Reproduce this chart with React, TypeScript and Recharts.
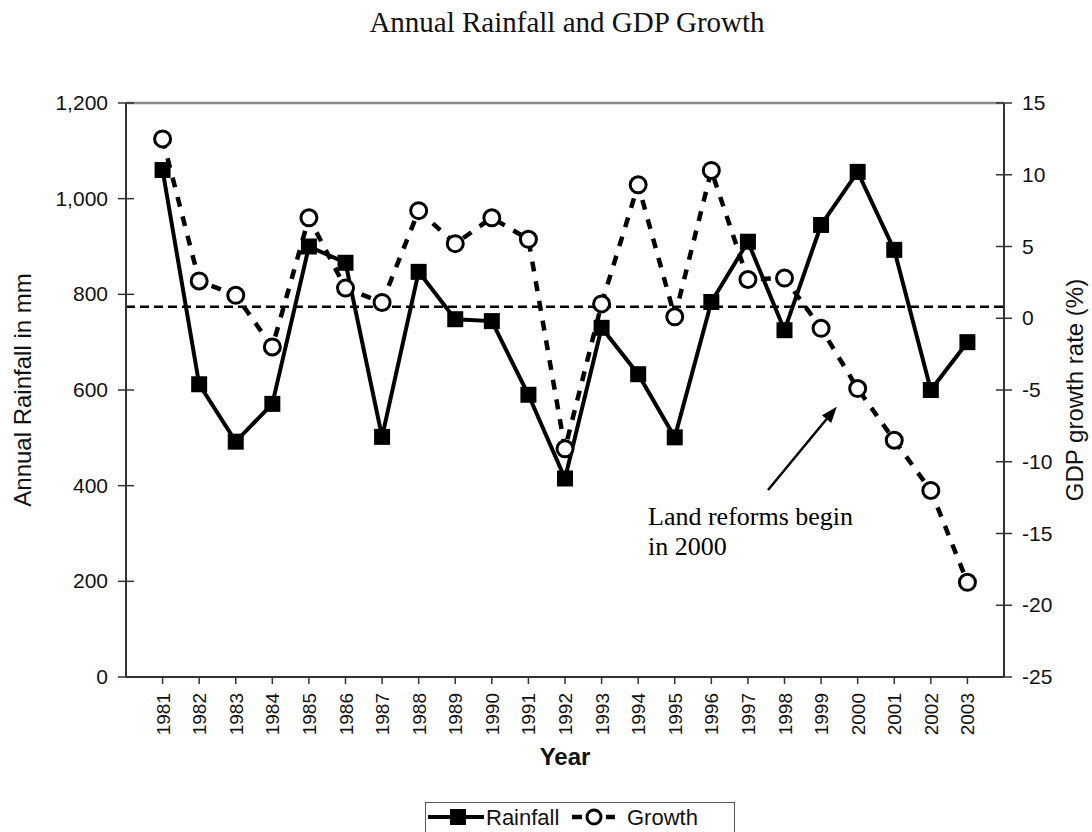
import React from 'react';
import { LineChart, Line, XAxis, YAxis, ReferenceLine, Label } from 'recharts';

const years = [1981, 1982, 1983, 1984, 1985, 1986, 1987, 1988, 1989, 1990, 1991, 1992, 1993, 1994, 1995, 1996, 1997, 1998, 1999, 2000, 2001, 2002, 2003];
const rainfall = [1060, 612, 492, 571, 900, 866, 502, 847, 748, 744, 590, 415, 730, 633, 501, 784, 910, 725, 945, 1056, 893, 600, 700];
const growth = [12.5, 2.6, 1.6, -2.0, 7.0, 2.1, 1.1, 7.5, 5.2, 7.0, 5.5, -9.1, 1.0, 9.3, 0.1, 10.3, 2.7, 2.8, -0.7, -4.9, -8.5, -12.0, -18.4];
const meanRainfall = 774;
const rainTicks = [0, 200, 400, 600, 800, 1000, 1200];
const growthTicks = [-25, -20, -15, -10, -5, 0, 5, 10, 15];

// arrow for the note, in chart units (year, mm)
const arrowFrom = { x: 1997.55, y: 391 };
const arrowTo = { x: 1999.43, y: 565 };
const noteLines = ['Land reforms begin', 'in 2000'];

const data = years.map((year, i) => ({ year, rainfall: rainfall[i], growth: growth[i] }));

const SANS = '"Liberation Sans", Arial, sans-serif';
const SERIF = '"Liberation Serif", "Times New Roman", serif';

const SquareDot = (props: any) => {
  const { cx, cy } = props;
  if (cx == null || cy == null) return null;
  return <rect x={cx - 8} y={cy - 8} width={16} height={16} fill="#000" />;
};

const CircleDot = (props: any) => {
  const { cx, cy } = props;
  if (cx == null || cy == null) return null;
  return <circle cx={cx} cy={cy} r={8} fill="#fff" stroke="#000" strokeWidth={3} />;
};

const LeftTick = (props: any) => {
  const { x, y, payload } = props;
  return (
    <g>
      <line x1={x - 8} x2={x + 8} y1={y} y2={y} stroke="#333" strokeWidth={1.5} />
      <text x={x - 18} y={y} dy={7} textAnchor="end" fontSize={21} fontFamily={SANS} fill="#111">
        {Number(payload.value).toLocaleString('en-US')}
      </text>
    </g>
  );
};

const RightTick = (props: any) => {
  const { x, y, payload } = props;
  return (
    <g>
      <line x1={x - 8} x2={x + 8} y1={y} y2={y} stroke="#333" strokeWidth={1.5} />
      <text x={x + 18} y={y} dy={7} textAnchor="start" fontSize={21} fontFamily={SANS} fill="#111">
        {payload.value}
      </text>
    </g>
  );
};

const YearTick = (props: any) => {
  const { x, y, payload } = props;
  return (
    <g>
      <line x1={x} x2={x} y1={y} y2={y + 7} stroke="#333" strokeWidth={1.5} />
      <text
        x={x + 7}
        y={y + 16}
        textAnchor="end"
        transform={`rotate(-90, ${x + 7}, ${y + 16})`}
        fontSize={19}
        fontFamily={SANS}
        fill="#111"
      >
        {payload.value}
      </text>
    </g>
  );
};

// vertical axis title, placed from the axis viewBox
const SideTitle = ({ viewBox, value, side }: any) => {
  if (!viewBox) return null;
  const cy = viewBox.y + viewBox.height / 2;
  const x = side === 'left' ? viewBox.x - 15 : viewBox.x + 79;
  return (
    <text
      x={x}
      y={cy}
      textAnchor="middle"
      transform={`rotate(-90, ${x}, ${cy})`}
      fontSize={24}
      fontFamily={SANS}
      fill="#111"
    >
      {value}
    </text>
  );
};

const NoteArrow = (props: any) => {
  const { x1, y1, x2, y2 } = props;
  const ang = Math.atan2(y2 - y1, x2 - x1);
  const len = 16;
  const half = 6;
  const bx = x2 - len * Math.cos(ang);
  const by = y2 - len * Math.sin(ang);
  const px = -Math.sin(ang) * half;
  const py = Math.cos(ang) * half;
  return (
    <g>
      <line x1={x1} y1={y1} x2={bx} y2={by} stroke="#000" strokeWidth={2.5} />
      <polygon points={`${x2},${y2} ${bx + px},${by + py} ${bx - px},${by - py}`} fill="#000" />
      <text x={x1 - 120} y={y1 + 35} fontSize={26} fontFamily={SERIF} fill="#000">
        {noteLines.map((t, i) => (
          <tspan key={t} x={x1 - 120} dy={i === 0 ? 0 : 30}>{t}</tspan>
        ))}
      </text>
    </g>
  );
};

const LegendBox = () => (
  <div
    style={{
      position: 'absolute',
      left: 425,
      top: 802,
      width: 310,
      height: 34,
      border: '1.5px solid #555',
      boxSizing: 'border-box',
      background: '#fff',
    }}
  >
    <svg width={310} height={34}>
      <line x1={2} x2={58} y1={14} y2={14} stroke="#000" strokeWidth={4} />
      <rect x={24} y={6} width={16} height={16} fill="#000" />
      <text x={60} y={22} fontSize={22} fontFamily={SANS} fill="#111">Rainfall</text>
      <line x1={146} x2={156} y1={14} y2={14} stroke="#000" strokeWidth={4.5} />
      <circle cx={168} cy={14} r={7} fill="#fff" stroke="#000" strokeWidth={3} />
      <line x1={180} x2={189} y1={14} y2={14} stroke="#000" strokeWidth={4.5} />
      <text x={201} y={22} fontSize={22} fontFamily={SANS} fill="#111">Growth</text>
    </svg>
  </div>
);

export default function App() {
  return (
    <div style={{ position: 'absolute', left: 0, top: 0, width: 1092, height: 832, background: '#fff', overflow: 'hidden' }}>
      <div
        style={{
          position: 'absolute',
          left: 0,
          width: 1092,
          top: 6,
          textAlign: 'center',
          paddingLeft: 42,
          boxSizing: 'border-box',
          fontFamily: SERIF,
          fontSize: 29,
          color: '#111',
        }}
      >
        Annual Rainfall and GDP Growth
      </div>
      <LineChart width={1092} height={832} data={data} margin={{ top: 103, right: 28, bottom: 55, left: 46 }}>
        <XAxis
          dataKey="year"
          type="number"
          domain={[1980, 2004]}
          ticks={years}
          interval={0}
          allowDecimals={false}
          height={100}
          tickSize={0}
          tickMargin={0}
          tickLine={false}
          tick={<YearTick />}
          axisLine={{ stroke: '#333', strokeWidth: 2 }}
          label={{ value: 'Year', position: 'insideBottom', offset: 12, fontSize: 24, fontWeight: 'bold', fontFamily: SANS, fill: '#111' }}
        />
        <YAxis
          yAxisId="left"
          domain={[0, 1200]}
          ticks={rainTicks}
          width={80}
          tickSize={0}
          tickMargin={0}
          tickLine={false}
          tick={<LeftTick />}
          axisLine={{ stroke: '#333', strokeWidth: 2 }}
        >
          <Label content={<SideTitle value="Annual Rainfall in mm" side="left" />} />
        </YAxis>
        <YAxis
          yAxisId="right"
          orientation="right"
          domain={[-25, 15]}
          ticks={growthTicks}
          width={60}
          tickSize={0}
          tickMargin={0}
          tickLine={false}
          tick={<RightTick />}
          axisLine={{ stroke: '#333', strokeWidth: 2 }}
        >
          <Label content={<SideTitle value="GDP growth rate (%)" side="right" />} />
        </YAxis>
        <ReferenceLine yAxisId="left" y={1200} stroke="#888" strokeWidth={2.5} />
        <ReferenceLine yAxisId="left" y={meanRainfall} stroke="#000" strokeWidth={2.5} strokeDasharray="9 5" />
        <ReferenceLine
          yAxisId="left"
          segment={[arrowFrom, arrowTo]}
          shape={<NoteArrow />}
        />
        <Line
          yAxisId="right"
          dataKey="growth"
          stroke="#000"
          strokeWidth={4.5}
          strokeDasharray="10 10"
          dot={<CircleDot />}
          activeDot={false}
          isAnimationActive={false}
        />
        <Line
          yAxisId="left"
          dataKey="rainfall"
          stroke="#000"
          strokeWidth={4}
          dot={<SquareDot />}
          activeDot={false}
          isAnimationActive={false}
        />
      </LineChart>
      <LegendBox />
    </div>
  );
}
